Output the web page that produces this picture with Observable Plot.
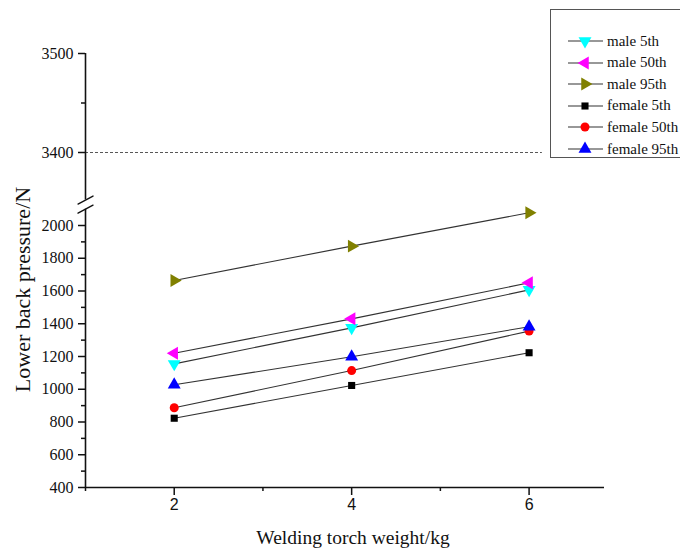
<!DOCTYPE html>
<html><head><meta charset="utf-8">
<script src="https://cdn.jsdelivr.net/npm/d3@7"></script>
<script src="https://cdn.jsdelivr.net/npm/@observablehq/plot@0.6"></script>
<style>
body{margin:0;background:#fff;}
#wrap{position:relative;width:680px;height:556px;overflow:hidden;}
#legend{position:absolute;left:550px;top:9px;width:140px;height:149px;border:1px solid #555;box-sizing:border-box;background:#fff;font-family:"Liberation Serif",serif;font-size:15px;color:#111;}
.row{position:absolute;left:0;height:20px;display:flex;align-items:center;}
.row svg{display:block;}
.row span{margin-left:2px;white-space:nowrap;}
</style></head><body><div id="wrap"></div>
<script>
// ---- data ----
const weights = [2, 4, 6];
const seriesNames = ["male 5th", "male 50th", "male 95th", "female 5th", "female 50th", "female 95th"];
const male5 = [1155, 1375, 1607];
const male50 = [1220, 1430, 1650];
const male95 = [1664, 1874, 2078];
const female5 = [823, 1023, 1223];
const female50 = [887, 1114, 1355];
const female95 = [1027, 1198, 1382];
const yTicks = [400, 600, 800, 1000, 1200, 1400, 1600, 1800, 2000, 3400, 3500];
const yMinorTicks = [500, 700, 900, 1100, 1300, 1500, 1700, 1900, 3450];
const xTicks = [2, 4, 6];
const xMinorTicks = [1, 3, 5];
const referenceLevel = [3400];
const axisSegments = [{from: 400, to: 2100}, {from: 3352, to: 3500}];
const breakValues = [2100, 3352];

const seriesValues = [male5, male50, male95, female5, female50, female95];
const rows = seriesNames.flatMap((name, i) => weights.map((w, j) => ({series: name, weight: w, force: seriesValues[i][j]})));

// ---- broken y axis: lower part 400–2100, upper part 3352–3500 ----
const BREAK_LO = 2100, BREAK_HI = 3352, GAP = 55.6, K = 6.046;
const brk = v => v <= BREAK_LO ? v : BREAK_LO + GAP + (v - BREAK_HI) * K;
const unbrk = u => u <= BREAK_LO ? u : BREAK_HI + (u - BREAK_LO - GAP) / K;

// ---- styles ----
const colors = ["#00FFFF", "#FF00FF", "#808000", "#000000", "#FF0000", "#0000FF"];
function triSymbol(angleDeg) {
  const a = angleDeg * Math.PI / 180, c = Math.cos(a), s = Math.sin(a);
  return {draw(context, size) {
    const y = -Math.sqrt(size / (Math.sqrt(3) * 3));
    const pts = [[0, y * 2], [-Math.sqrt(3) * y, -y], [Math.sqrt(3) * y, -y]];
    pts.forEach(([px, py], i) => {
      const rx = px * c - py * s, ry = px * s + py * c;
      i ? context.lineTo(rx, ry) : context.moveTo(rx, ry);
    });
    context.closePath();
  }};
}
const symbols = [triSymbol(180), triSymbol(-90), triSymbol(90), d3.symbolSquare, d3.symbolCircle, triSymbol(0)];
const radii = [4.8, 4.8, 4.8, 4.0, 4.5, 4.8];
const slashShape = {draw(context, l) { context.moveTo(0, 0); context.lineTo(0, -l); }};

const chart = Plot.plot({
  width: 680, height: 556,
  marginLeft: 85, marginRight: 76, marginTop: 53, marginBottom: 69,
  style: {fontFamily: "Liberation Serif, serif", background: "white", color: "#111", overflow: "visible"},
  x: {domain: [1, 6.85]},
  y: {domain: [400, brk(3500)]},
  marks: [
    Plot.ruleY(referenceLevel, {y: brk, x1: 1, x2: 6.15, stroke: "#444", strokeWidth: 0.9, strokeDasharray: "3,2"}),
    Plot.line(rows, {x: "weight", y: d => brk(d.force), z: "series", stroke: "#333", strokeWidth: 1.1}),
    ...seriesNames.map((name, i) => Plot.dot(rows.filter(d => d.series === name), {
      x: "weight", y: d => brk(d.force), symbol: symbols[i], r: radii[i], fill: colors[i], stroke: "none"
    })),
    Plot.ruleY([400], {stroke: "#111", strokeWidth: 1.6}),
    Plot.ruleX(axisSegments, {x: () => 1, y1: d => brk(d.from), y2: d => brk(d.to), stroke: "#111", strokeWidth: 1.6}),
    Plot.vector(breakValues, {x: () => 1, y: brk, length: 17, rotate: 62, anchor: "middle", shape: slashShape, stroke: "#111", strokeWidth: 1.4}),
    Plot.axisY({ticks: yTicks.map(brk), tickSize: 7, tickPadding: 5, tickFormat: u => String(Math.round(unbrk(u))), fontSize: 16, strokeWidth: 1.5, label: null}),
    Plot.axisY({ticks: yMinorTicks.map(brk), tickSize: 4, tickFormat: () => "", strokeWidth: 1.5, label: null}),
    Plot.axisX({ticks: xTicks, tickSize: 8, tickPadding: 3, tickFormat: d3.format("d"), fontFamily: "Liberation Sans, sans-serif", fontSize: 16, strokeWidth: 1.5, label: null}),
    Plot.axisX({ticks: xMinorTicks, tickSize: 4, tickFormat: () => "", strokeWidth: 1.5, label: null}),
    Plot.text(["Lower back pressure/N"], {frameAnchor: "left", dx: -63, dy: 19, rotate: -90, fontSize: 22, textAnchor: "middle", fill: "#111"}),
    Plot.text(["Welding torch weight/kg"], {frameAnchor: "bottom", dx: 8, dy: 56, fontSize: 19.5, textAnchor: "middle", fill: "#111"})
  ]
});
const wrap = document.getElementById("wrap");
wrap.appendChild(chart);

// legend
const legend = document.createElement("div");
legend.id = "legend";
seriesNames.forEach((name, i) => {
  const row = document.createElement("div");
  row.className = "row";
  row.style.top = (21 + i * 21.6) + "px";
  const svg = d3.create("svg").attr("width", 54).attr("height", 20);
  svg.append("line").attr("x1", 17).attr("x2", 52).attr("y1", 10).attr("y2", 10).attr("stroke", "#333").attr("stroke-width", 1.1);
  svg.append("path").attr("transform", "translate(34,10)")
    .attr("d", d3.symbol(symbols[i], radii[i] * radii[i] * Math.PI)()).attr("fill", colors[i]);
  row.appendChild(svg.node());
  const label = document.createElement("span");
  label.textContent = name;
  row.appendChild(label);
  legend.appendChild(row);
});
wrap.appendChild(legend);
</script>
</body></html>
